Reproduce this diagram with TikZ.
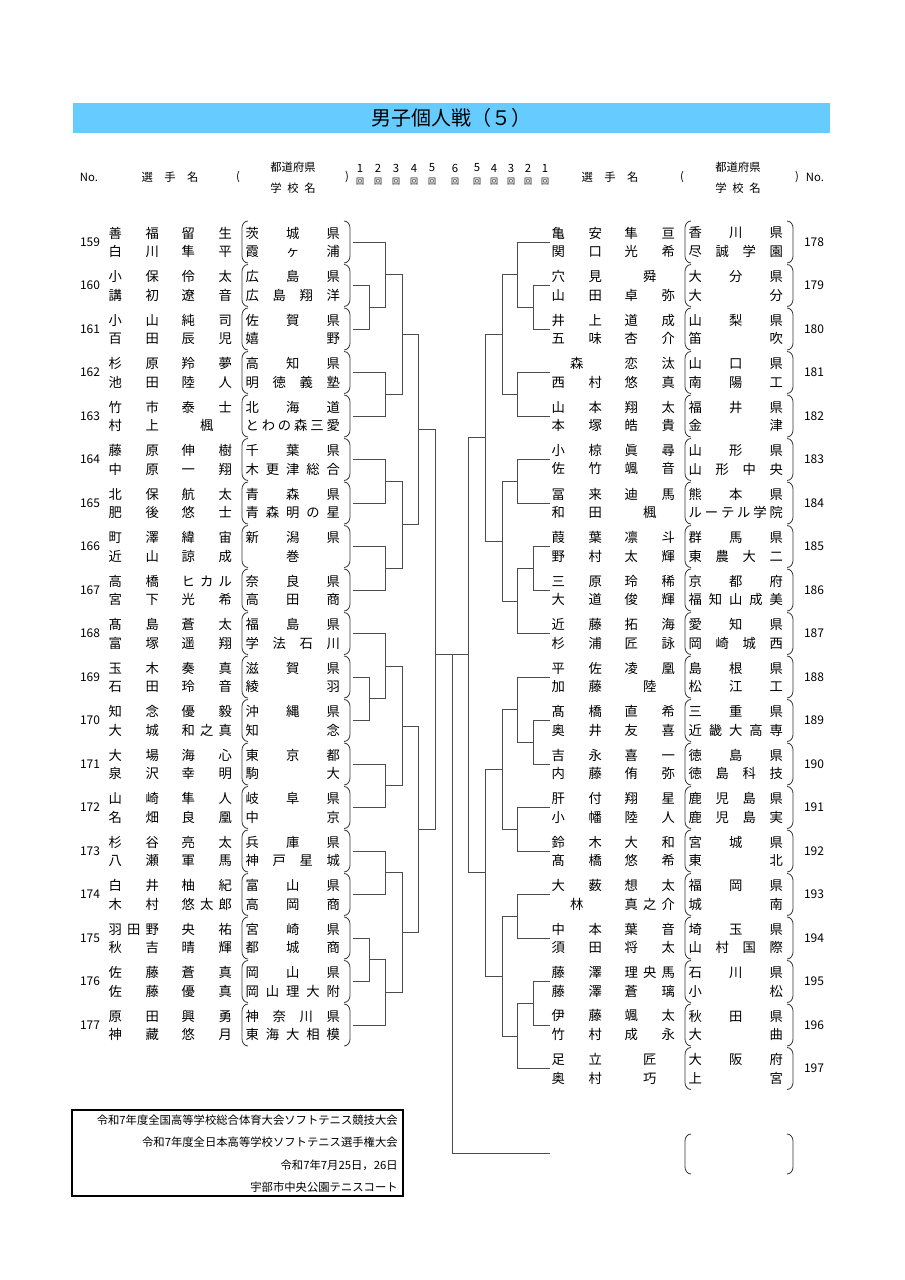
\documentclass[tikz,border=0pt]{standalone}
\usepackage{fontspec}
\setmainfont{Noto Sans CJK JP}
\usetikzlibrary{calc, positioning}

\definecolor{titleblue}{RGB}{102,204,255}

% spread characters over a box, a single one is centred
\def\sprd#1{\sprdB#1\sprdEnd}
\def\sprdB#1#2\sprdEnd{\ifx\relax#2\relax\hfil#1\hfil\else\sprdA#1#2\sprdEnd\fi}
\def\sprdA#1#2\sprdEnd{#1\ifx\relax#2\relax\else\hfill\sprdA#2\sprdEnd\fi}
\newcommand{\nmline}[2]{\hbox to 92.5pt{\hbox to 37.8pt{\sprd{#1}}\hfill\hbox to 37.8pt{\sprd{#2}}}}
\newcommand{\schline}[1]{\hbox to 70.8pt{\sprd{#1}}}

\tikzset{
  nm/.style={anchor=west, inner sep=0pt, font=\fontsize{10pt}{10pt}\selectfont},
  num/.style={inner sep=0pt, font=\fontsize{9pt}{9pt}\selectfont},
  hd/.style={inner sep=0pt, font=\fontsize{8.5pt}{9pt}\selectfont},
  brk/.style={line width=0.6pt, black!80},
  bra/.style={line width=0.5pt, black!70}
}

% entry: no, row, family 1, given 1, family 2, given 2, school 1, school 2
\newcommand{\player}[8]{%
  \pgfmathsetmacro\py{242+43.5*(#2-1)}
  \node[num] (no#1) at (\nx,\py) {#1};
  \node[nm] (n#1a) at (\sx+108.3,\py-9) {\nmline{#3}{#4}};
  \node[nm] (n#1b) at (\sx+108.3,\py+9.5) {\nmline{#5}{#6}};
  \node[nm] (s#1a) at (\sx+245.3,\py-9) {\schline{#7}};
  \node[nm] (s#1b) at (\sx+245.3,\py+9.5) {\schline{#8}};
  \draw[brk] (\sx+248,\py-21) to[out=180,in=90] (\sx+242,\py-14) -- (\sx+242,\py+14) to[out=-90,in=180] (\sx+248,\py+21);
  \draw[brk] (\sx+344,\py-21) to[out=0,in=90] (\sx+350,\py-14) -- (\sx+350,\py+14) to[out=-90,in=0] (\sx+344,\py+21);
  \coordinate (P#1) at (\cx,\py);
}

% join two lines at x, name the new point
\newcommand{\jn}[4]{%
  \coordinate (t) at (#3,0);
  \draw[bra] (#1) -- (#1 -| t) -- (#2 -| t) -- (#2);
  \coordinate (#4) at ($(#1 -| t)!0.5!(#2 -| t)$);
}

\begin{document}
\begin{tikzpicture}[x=0.75pt, y=-0.75pt]
\useasboundingbox (0,0) rectangle (905,1280);

% title
\fill[titleblue] (73,103) rectangle (830,133);
\node[inner sep=0pt, font=\fontsize{15pt}{15pt}\selectfont] (title) at (451,118) {男子個人戦（５）};

% header
\node[hd] (hno1) at (89,177) {No.};
\node[hd] (hname1) at (170,177) {選\quad 手\quad 名};
\node[hd] (hpl1) at (238,177) {(};
\node[hd] (hpref1) at (293,167) {都道府県};
\node[hd] (hsch1) at (293,188) {学\enspace 校\enspace 名};
\node[hd] (hpr1) at (347,177) {)};
\foreach \r [count=\i] in {1,...,5} {
  \node[hd] (hr\i) at ({360+18*(\i-1)},168) {\r};
  \node[hd, font=\fontsize{6pt}{6pt}\selectfont] (hk\i) at ({360+18*(\i-1)},182) {回};
}
\node[hd] (hr6) at (455,168) {6};
\node[hd, font=\fontsize{6pt}{6pt}\selectfont] (hk6) at (455,182) {回};
\foreach \r [count=\i] in {5,4,3,2,1} {
  \node[hd] (hs\i) at ({477+17*(\i-1)},168) {\r};
  \node[hd, font=\fontsize{6pt}{6pt}\selectfont] (hm\i) at ({477+17*(\i-1)},182) {回};
}
\node[hd] (hname2) at (610,177) {選\quad 手\quad 名};
\node[hd] (hpl2) at (682,177) {(};
\node[hd] (hpref2) at (738,167) {都道府県};
\node[hd] (hsch2) at (738,188) {学\enspace 校\enspace 名};
\node[hd] (hpr2) at (797,177) {)};
\node[hd] (hno2) at (815,177) {No.};

% left half
\def\sx{0}\def\nx{90}\def\cx{353}
\player{159}{1}{善福}{留生}{白川}{隼平}{茨城県}{霞ヶ浦}
\player{160}{2}{小保}{伶太}{講初}{遼音}{広島県}{広島翔洋}
\player{161}{3}{小山}{純司}{百田}{辰児}{佐賀県}{嬉野}
\player{162}{4}{杉原}{羚夢}{池田}{陸人}{高知県}{明徳義塾}
\player{163}{5}{竹市}{泰士}{村上}{楓}{北海道}{とわの森三愛}
\player{164}{6}{藤原}{伸樹}{中原}{一翔}{千葉県}{木更津総合}
\player{165}{7}{北保}{航太}{肥後}{悠士}{青森県}{青森明の星}
\player{166}{8}{町澤}{緯宙}{近山}{諒成}{新潟県}{巻}
\player{167}{9}{高橋}{ヒカル}{宮下}{光希}{奈良県}{高田商}
\player{168}{10}{髙島}{蒼太}{富塚}{遥翔}{福島県}{学法石川}
\player{169}{11}{玉木}{奏真}{石田}{玲音}{滋賀県}{綾羽}
\player{170}{12}{知念}{優毅}{大城}{和之真}{沖縄県}{知念}
\player{171}{13}{大場}{海心}{泉沢}{幸明}{東京都}{駒大}
\player{172}{14}{山崎}{隼人}{名畑}{良凰}{岐阜県}{中京}
\player{173}{15}{杉谷}{亮太}{八瀬}{軍馬}{兵庫県}{神戸星城}
\player{174}{16}{白井}{柚紀}{木村}{悠太郎}{富山県}{高岡商}
\player{175}{17}{羽田野}{央祐}{秋吉}{晴輝}{宮崎県}{都城商}
\player{176}{18}{佐藤}{蒼真}{佐藤}{優真}{岡山県}{岡山理大附}
\player{177}{19}{原田}{興勇}{神藏}{悠月}{神奈川県}{東海大相模}

% right half
\def\sx{443}\def\nx{814}\def\cx{550}
\player{178}{1}{亀安}{隼亘}{関口}{光希}{香川県}{尽誠学園}
\player{179}{2}{穴見}{舜}{山田}{卓弥}{大分県}{大分}
\player{180}{3}{井上}{道成}{五味}{杏介}{山梨県}{笛吹}
\player{181}{4}{森}{恋汰}{西村}{悠真}{山口県}{南陽工}
\player{182}{5}{山本}{翔太}{本塚}{皓貴}{福井県}{金津}
\player{183}{6}{小椋}{眞尋}{佐竹}{颯音}{山形県}{山形中央}
\player{184}{7}{冨来}{迪馬}{和田}{楓}{熊本県}{ルーテル学院}
\player{185}{8}{葭葉}{凛斗}{野村}{太輝}{群馬県}{東農大二}
\player{186}{9}{三原}{玲稀}{大道}{俊輝}{京都府}{福知山成美}
\player{187}{10}{近藤}{拓海}{杉浦}{匠詠}{愛知県}{岡崎城西}
\player{188}{11}{平佐}{凌凰}{加藤}{陸}{島根県}{松江工}
\player{189}{12}{髙橋}{直希}{奥井}{友喜}{三重県}{近畿大高専}
\player{190}{13}{吉永}{喜一}{内藤}{侑弥}{徳島県}{徳島科技}
\player{191}{14}{肝付}{翔星}{小幡}{陸人}{鹿児島県}{鹿児島実}
\player{192}{15}{鈴木}{大和}{髙橋}{悠希}{宮城県}{東北}
\player{193}{16}{大薮}{想太}{林}{真之介}{福岡県}{城南}
\player{194}{17}{中本}{葉音}{須田}{将太}{埼玉県}{山村国際}
\player{195}{18}{藤澤}{理央馬}{藤澤}{蒼璃}{石川県}{小松}
\player{196}{19}{伊藤}{颯太}{竹村}{成永}{秋田県}{大曲}
\player{197}{20}{足立}{匠}{奥村}{巧}{大阪府}{上宮}

% empty slot
\draw[brk] (691,1134) to[out=180,in=90] (685,1141) -- (685,1167) to[out=-90,in=180] (691,1174);
\draw[brk] (787,1134) to[out=0,in=90] (793,1141) -- (793,1167) to[out=-90,in=0] (787,1174);
\coordinate (P198) at (550,1153);

% left bracket
\jn{P160}{P161}{369}{a1}
\jn{P159}{a1}{385}{a2}
\jn{P162}{P163}{385}{a3}
\jn{a2}{a3}{402}{a4}
\jn{P164}{P165}{385}{a5}
\jn{P166}{P167}{385}{a6}
\jn{a5}{a6}{402}{a7}
\jn{a4}{a7}{418}{a8}
\jn{P169}{P170}{369}{b1}
\jn{P168}{b1}{385}{b2}
\jn{P171}{P172}{385}{b3}
\jn{b2}{b3}{402}{b4}
\jn{P173}{P174}{385}{b5}
\jn{P175}{P176}{369}{b6}
\jn{b6}{P177}{385}{b7}
\jn{b5}{b7}{402}{b8}
\jn{b4}{b8}{418}{b9}
\jn{a8}{b9}{435}{lf}

% right bracket
\jn{P179}{P180}{533}{c1}
\jn{P178}{c1}{517}{c2}
\jn{P181}{P182}{517}{c3}
\jn{c2}{c3}{502}{c4}
\jn{P183}{P184}{517}{c5}
\jn{P185}{P186}{533}{c6}
\jn{c6}{P187}{517}{c7}
\jn{c5}{c7}{502}{c8}
\jn{c4}{c8}{485}{c9}
\jn{P189}{P190}{533}{d1}
\jn{P188}{d1}{517}{d2}
\jn{P191}{P192}{517}{d3}
\jn{d2}{d3}{502}{d4}
\jn{P193}{P194}{517}{d5}
\jn{P195}{P196}{533}{d6}
\jn{d6}{P197}{517}{d7}
\jn{d5}{d7}{502}{d8}
\jn{d4}{d8}{485}{d9}
\jn{c9}{d9}{468}{rf}

% final
\coordinate (fin) at (452,654);
\draw[bra] (lf |- fin) -- (rf |- fin);
\draw[bra] (fin) |- (P198);

% venue box
\draw[line width=0.8pt] (72,1110) rectangle (403,1196);
\node[hd, anchor=east] (v1) at (398,1120) {令和7年度全国高等学校総合体育大会ソフトテニス競技大会};
\node[hd, anchor=east] (v2) at (398,1142) {令和7年度全日本高等学校ソフトテニス選手権大会};
\node[hd, anchor=east] (v3) at (398,1165) {令和7年7月25日，26日};
\node[hd, anchor=east] (v4) at (398,1187) {宇部市中央公園テニスコート};
\end{tikzpicture}
\end{document}
